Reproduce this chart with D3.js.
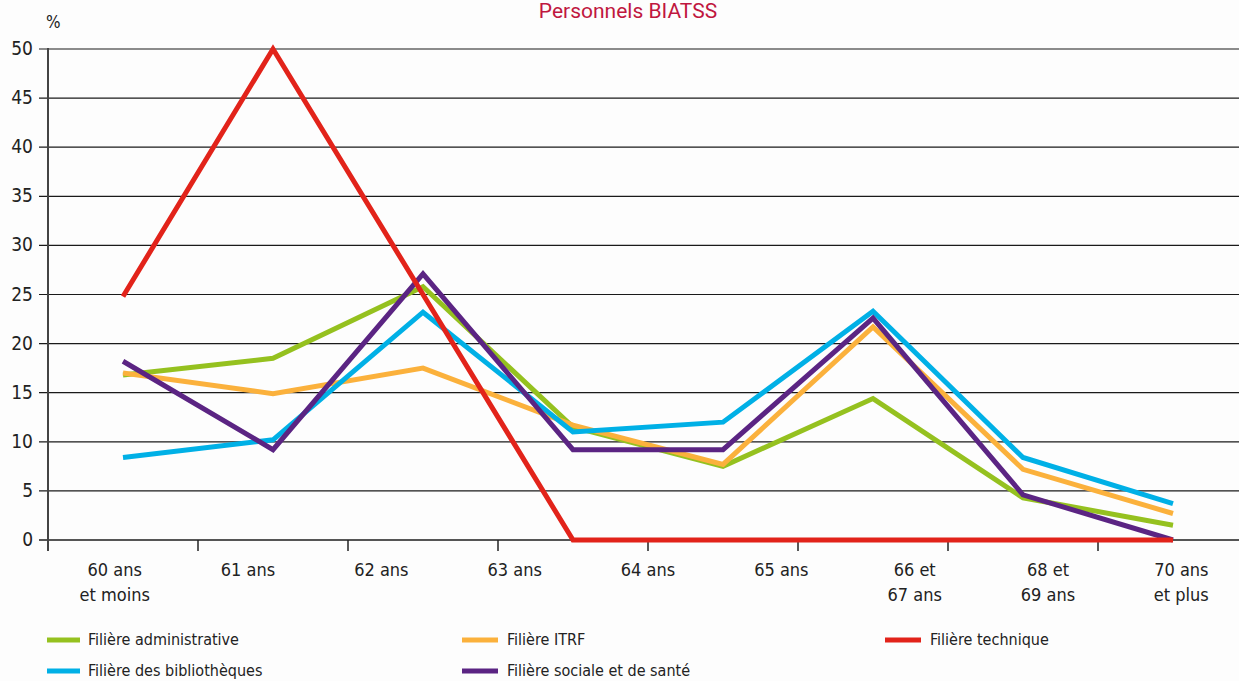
<!DOCTYPE html>
<html><head><meta charset="utf-8">
<script src="https://cdn.jsdelivr.net/npm/d3@7"></script>
<style>
html,body{margin:0;padding:0;background:#fdfdfd;}
svg{display:block;}
text{font-family:"Liberation Sans Narrow","DejaVu Sans Condensed","Roboto",sans-serif;fill:#222;}
</style></head>
<body><svg id="c" width="1239" height="681"></svg>
<script>
const title = "Personnels BIATSS";
const categories = [["60 ans","et moins"],["61 ans"],["62 ans"],["63 ans"],["64 ans"],["65 ans"],["66 et","67 ans"],["68 et","69 ans"],["70 ans","et plus"]];
const yTicks = [0,5,10,15,20,25,30,35,40,45,50];
const seriesNames = ["Filière administrative","Filière ITRF","Filière technique","Filière des bibliothèques","Filière sociale et de santé"];
const seriesColors = ["#95c11f","#fbb13c","#e2231a","#00b0e6","#5b2483"];
const administrative = [16.8,18.5,25.8,11.5,7.5,14.4,4.3,1.5];
const itrf = [17.0,14.9,17.5,11.7,7.7,21.7,7.2,2.7];
const technique = [24.8,50,25,0,0,0,0,0];
const bibliotheques = [8.4,10.2,23.2,11.0,12.0,23.3,8.4,3.7];
const sociale = [18.2,9.2,27.1,9.2,9.2,22.6,4.6,0];
const seriesValues = [administrative,itrf,technique,bibliotheques,sociale];
const drawOrder = [0,1,3,4,2];

const svg = d3.select("#c");
const left = 48, right = 1248, y0 = 540, y50 = 49;
const y = d3.scaleLinear().domain([0,50]).range([y0,y50]);
const x = d3.scaleLinear().domain([0,8]).range([left,right]);
const xl = d3.scaleBand().domain(categories.map((c,i)=>i)).range([left,right]);

// title
svg.append("text").attr("x",628).attr("y",18).attr("text-anchor","middle")
  .style("font-family","Roboto, 'Open Sans', sans-serif").style("font-size","21px").style("fill","#c0173f").text(title);
svg.append("text").attr("x",46).attr("y",28).style("font-size","17px").text("%");

// gridlines
svg.append("g").selectAll("line").data(yTicks.filter(d=>d>0)).join("line")
  .attr("x1",39).attr("x2",1239).attr("y1",d=>y(d)).attr("y2",d=>y(d))
  .attr("stroke","#1a1a1a").attr("stroke-width",1.2);
// y labels
svg.append("g").selectAll("text").data(yTicks).join("text")
  .attr("x",33).attr("y",d=>y(d)+6).attr("text-anchor","end").style("font-size","19px").text(d=>d);
// x axis line
svg.append("line").attr("x1",39).attr("x2",1239).attr("y1",y0).attr("y2",y0).attr("stroke","#555").attr("stroke-width",2);
svg.append("line").attr("x1",left).attr("x2",left).attr("y1",y50-1).attr("y2",y0+11).attr("stroke","#444").attr("stroke-width",2);
// x ticks
svg.append("g").selectAll("line").data(d3.range(1,9)).join("line")
  .attr("x1",d=>x(d)).attr("x2",d=>x(d)).attr("y1",y0).attr("y2",y0+11).attr("stroke","#222").attr("stroke-width",1.5);
// x labels
const xg = svg.append("g").selectAll("text").data(categories).join("text")
  .attr("text-anchor","middle").style("font-size","18px")
  .attr("transform",(d,i)=>`translate(${xl(i)+xl.bandwidth()/2},0)`);
xg.selectAll("tspan").data(d=>d).join("tspan").attr("x",0).attr("y",(d,j)=>576+j*25).text(d=>d);

// lines
const line = d3.line().x((d,i)=>x(i+0.5)).y(d=>y(d));
svg.append("g").selectAll("path").data(drawOrder).join("path")
  .attr("d",k=>line(seriesValues[k])).attr("fill","none")
  .attr("stroke",k=>seriesColors[k]).attr("stroke-width",5).attr("stroke-linejoin","miter");

// legend
const legPos = [[47,640],[462,640],[885,640],[47,671],[462,671]];
const lg = svg.append("g").selectAll("g").data(seriesNames).join("g")
  .attr("transform",(d,i)=>`translate(${legPos[i][0]},${legPos[i][1]})`);
lg.append("line").attr("x1",0).attr("x2",(d,i)=>i%3===0&&i!==2?33:36).attr("y1",0).attr("y2",0)
  .attr("stroke",(d,i)=>seriesColors[i]).attr("stroke-width",5);
lg.append("text").attr("x",(d,i)=>legPos[i][0]<100?41:45).attr("y",5).style("font-size","16px").text(d=>d);
</script></body></html>
